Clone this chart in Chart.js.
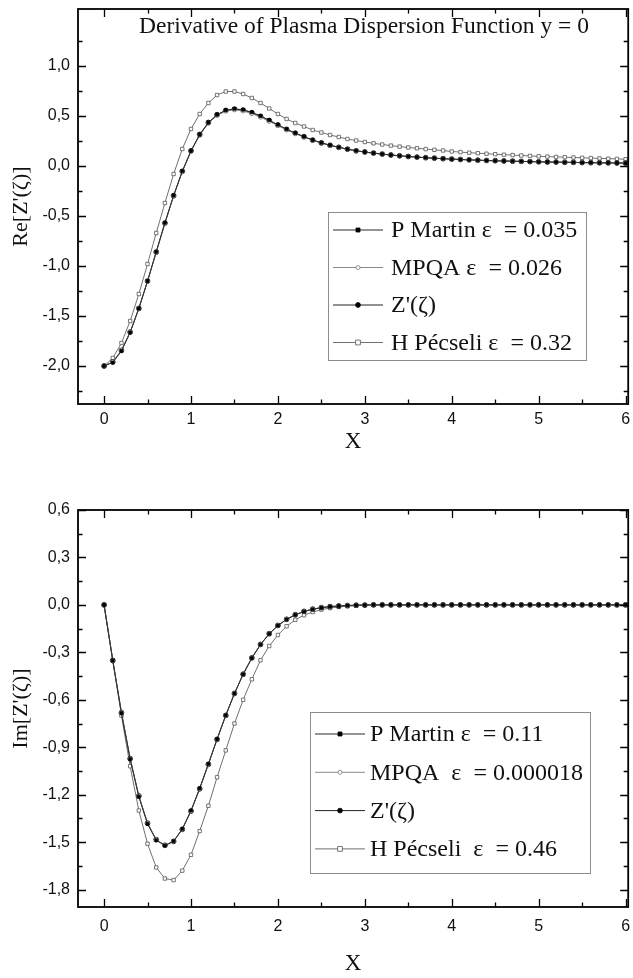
<!DOCTYPE html>
<html lang="en">
<head>
<meta charset="UTF-8">
<title>Derivative of Plasma Dispersion Function</title>
<script src="https://cdn.jsdelivr.net/npm/chart.js@4.4.1/dist/chart.umd.min.js"></script>
<style>
  body { margin: 0; background: #fff; }
  .panel { position: absolute; left: 0; width: 633px; }
  #top { top: 0; height: 470px; }
  #bottom { top: 470px; height: 508px; }
</style>
</head>
<body>
<div class="panel" id="top"><canvas id="reChart" width="633" height="470"></canvas></div>
<div class="panel" id="bottom"><canvas id="imChart" width="633" height="508"></canvas></div>
<script>
// x grid of the computed points
const xValues = [0, 0.1, 0.2, 0.3, 0.4, 0.5, 0.6, 0.7, 0.8, 0.9, 1.0, 1.1, 1.2, 1.3, 1.4, 1.5, 1.6, 1.7, 1.8, 1.9,
  2.0, 2.1, 2.2, 2.3, 2.4, 2.5, 2.6, 2.7, 2.8, 2.9, 3.0, 3.1, 3.2, 3.3, 3.4, 3.5, 3.6, 3.7, 3.8, 3.9,
  4.0, 4.1, 4.2, 4.3, 4.4, 4.5, 4.6, 4.7, 4.8, 4.9, 5.0, 5.1, 5.2, 5.3, 5.4, 5.5, 5.6, 5.7, 5.8, 5.9, 6.0];

// Re[Z'(zeta)] panel
const reMartin = [-2.000, -1.965, -1.850, -1.665, -1.425, -1.150, -0.858, -0.568, -0.295, -0.052, 0.150, 0.312, 0.432, 0.512, 0.557, 0.571, 0.562, 0.537, 0.500, 0.458,
  0.412, 0.368, 0.329, 0.293, 0.260, 0.232, 0.208, 0.187, 0.169, 0.153, 0.140, 0.129, 0.119, 0.110, 0.102, 0.095, 0.089, 0.083, 0.078, 0.073,
  0.069, 0.065, 0.061, 0.058, 0.055, 0.052, 0.050, 0.048, 0.046, 0.044, 0.042, 0.040, 0.039, 0.037, 0.036, 0.034, 0.033, 0.032, 0.031, 0.030, 0.029];
const reMpqa = [-2.000, -1.958, -1.842, -1.660, -1.424, -1.152, -0.863, -0.574, -0.300, -0.058, 0.146, 0.308, 0.428, 0.506, 0.549, 0.561, 0.550, 0.524, 0.488, 0.447,
  0.403, 0.361, 0.323, 0.289, 0.257, 0.229, 0.206, 0.186, 0.168, 0.152, 0.139, 0.128, 0.118, 0.110, 0.102, 0.095, 0.089, 0.083, 0.078, 0.073,
  0.069, 0.065, 0.061, 0.058, 0.055, 0.052, 0.050, 0.048, 0.046, 0.044, 0.042, 0.040, 0.039, 0.037, 0.036, 0.034, 0.033, 0.032, 0.031, 0.030, 0.029];
const reExact = [-2.000, -1.960, -1.844, -1.661, -1.424, -1.151, -0.861, -0.571, -0.297, -0.053, 0.152, 0.315, 0.435, 0.513, 0.556, 0.569, 0.559, 0.533, 0.497, 0.455,
  0.410, 0.366, 0.328, 0.293, 0.259, 0.231, 0.207, 0.187, 0.168, 0.152, 0.140, 0.129, 0.119, 0.110, 0.102, 0.095, 0.089, 0.083, 0.078, 0.073,
  0.069, 0.065, 0.062, 0.058, 0.055, 0.053, 0.050, 0.048, 0.046, 0.044, 0.042, 0.040, 0.039, 0.037, 0.036, 0.034, 0.033, 0.032, 0.031, 0.030, 0.029];
const rePecseli = [-2.000, -1.920, -1.770, -1.550, -1.280, -0.980, -0.670, -0.370, -0.080, 0.170, 0.370, 0.520, 0.630, 0.710, 0.745, 0.745, 0.720, 0.680, 0.630, 0.575,
  0.520, 0.470, 0.430, 0.395, 0.360, 0.335, 0.310, 0.290, 0.270, 0.255, 0.240, 0.227, 0.215, 0.204, 0.194, 0.185, 0.177, 0.169, 0.162, 0.155,
  0.145, 0.139, 0.133, 0.128, 0.123, 0.118, 0.113, 0.109, 0.105, 0.101, 0.097, 0.094, 0.091, 0.088, 0.085, 0.082, 0.079, 0.076, 0.073, 0.071, 0.068];

// Im[Z'(zeta)] panel
const imMartin = [0, -0.352, -0.684, -0.976, -1.213, -1.385, -1.488, -1.522, -1.494, -1.416, -1.300, -1.159, -1.005, -0.848, -0.698, -0.560, -0.439, -0.336, -0.251, -0.183,
  -0.131, -0.092, -0.063, -0.042, -0.028, -0.018, -0.011, -0.007, -0.004, -0.002, -0.001, 0, 0, 0, 0, 0, 0, 0, 0, 0,
  0, 0, 0, 0, 0, 0, 0, 0, 0, 0, 0, 0, 0, 0, 0, 0, 0, 0, 0, 0, 0];
const imMpqa = [0, -0.351, -0.681, -0.972, -1.208, -1.380, -1.484, -1.520, -1.495, -1.419, -1.304, -1.163, -1.008, -0.850, -0.699, -0.560, -0.438, -0.335, -0.250, -0.182,
  -0.130, -0.091, -0.062, -0.041, -0.027, -0.017, -0.011, -0.007, -0.004, -0.002, -0.001, 0, 0, 0, 0, 0, 0, 0, 0, 0,
  0, 0, 0, 0, 0, 0, 0, 0, 0, 0, 0, 0, 0, 0, 0, 0, 0, 0, 0, 0, 0];
const imExact = [0, -0.351, -0.681, -0.972, -1.208, -1.380, -1.484, -1.520, -1.495, -1.419, -1.304, -1.163, -1.008, -0.850, -0.699, -0.560, -0.438, -0.335, -0.250, -0.182,
  -0.130, -0.091, -0.062, -0.041, -0.027, -0.017, -0.011, -0.007, -0.004, -0.002, -0.001, 0, 0, 0, 0, 0, 0, 0, 0, 0,
  0, 0, 0, 0, 0, 0, 0, 0, 0, 0, 0, 0, 0, 0, 0, 0, 0, 0, 0, 0, 0];
const imPecseli = [0, -0.350, -0.700, -1.020, -1.300, -1.510, -1.660, -1.730, -1.740, -1.680, -1.580, -1.430, -1.270, -1.090, -0.920, -0.750, -0.600, -0.470, -0.350, -0.260,
  -0.190, -0.135, -0.094, -0.065, -0.045, -0.030, -0.020, -0.013, -0.008, -0.005, -0.003, 0, 0, 0, 0, 0, 0, 0, 0, 0,
  0, 0, 0, 0, 0, 0, 0, 0, 0, 0, 0, 0, 0, 0, 0, 0, 0, 0, 0, 0, 0];

// tick labels
const xTicks = [0, 1, 2, 3, 4, 5, 6];
const reTicks = [-2.0, -1.5, -1.0, -0.5, 0.0, 0.5, 1.0];
const imTicks = [-1.8, -1.5, -1.2, -0.9, -0.6, -0.3, 0.0, 0.3, 0.6];

const reLabels = ['P Martin \u03b5  = 0.035', 'MPQA \u03b5  = 0.026', 'Z\'(\u03b6)', 'H P\u00e9cseli \u03b5  = 0.32'];
const imLabels = ['P Martin \u03b5  = 0.11', 'MPQA  \u03b5  = 0.000018', 'Z\'(\u03b6)', 'H P\u00e9cseli  \u03b5  = 0.46'];

const SERIF = '"Liberation Serif", "Times New Roman", serif';
const SANS = '"Liberation Sans", Arial, sans-serif';

function pts(ys) {
  return xValues.map((x, i) => ({ x: x, y: ys[i] }));
}

function makeDatasets(series, labels) {
  const styles = [
    { borderColor: '#2a2a2a', pointStyle: 'rect', pointRadius: 2, pointBackgroundColor: '#000', pointBorderColor: '#000' },
    { borderColor: '#8a8a8a', pointStyle: 'circle', pointRadius: 2, pointBackgroundColor: '#fff', pointBorderColor: '#777' },
    { borderColor: '#222', pointStyle: 'circle', pointRadius: 2.4, pointBackgroundColor: '#000', pointBorderColor: '#000' },
    { borderColor: '#707070', pointStyle: 'rect', pointRadius: 2.4, pointBackgroundColor: '#fff', pointBorderColor: '#555' }
  ];
  return series.map((s, i) => Object.assign({
    label: labels[i],
    data: pts(s),
    borderWidth: 1,
    pointBorderWidth: 0.8,
    tension: 0,
    fill: false
  }, styles[i]));
}

// inward ticks on all four sides plus the box
function minorsOf(ticks, min, max) {
  const step = ticks[1] - ticks[0];
  const out = [];
  const first = ticks[0] - step / 2;
  for (let v = first; v <= max; v += step) {
    if (v >= min) out.push(v);
  }
  return out;
}

const framePlugin = {
  id: 'frame',
  afterDatasetsDraw(chart) {
    const { ctx, chartArea: a, scales: { x, y } } = chart;
    ctx.save();
    ctx.strokeStyle = '#000';
    ctx.lineWidth = 1.3;
    const major = 8, minor = 4.5;
    const xt = x.ticks.map(t => t.value);
    const yt = y.ticks.map(t => t.value);
    const xm = minorsOf(xt, x.min, x.max);
    const ym = minorsOf(yt, y.min, y.max);
    ctx.beginPath();
    const vx = (v, len) => {
      const px = Math.round(x.getPixelForValue(v)) + 0.5;
      ctx.moveTo(px, a.bottom); ctx.lineTo(px, a.bottom - len);
      ctx.moveTo(px, a.top); ctx.lineTo(px, a.top + len);
    };
    const hy = (v, len) => {
      const py = Math.round(y.getPixelForValue(v)) + 0.5;
      ctx.moveTo(a.left, py); ctx.lineTo(a.left + len, py);
      ctx.moveTo(a.right, py); ctx.lineTo(a.right - len, py);
    };
    xt.forEach(v => vx(v, major));
    xm.forEach(v => vx(v, minor));
    yt.forEach(v => hy(v, major));
    ym.forEach(v => hy(v, minor));
    ctx.stroke();
    ctx.lineWidth = 1.8;
    ctx.strokeRect(a.left, a.top, a.right - a.left, a.bottom - a.top);
    ctx.restore();
  }
};

// boxed legend drawn inside the plot
const boxLegendPlugin = {
  id: 'boxLegend',
  afterDraw(chart, args, o) {
    const { ctx } = chart;
    ctx.save();
    ctx.fillStyle = '#fff';
    ctx.fillRect(o.left, o.top, o.width, o.height);
    ctx.strokeStyle = '#8c8c8c';
    ctx.lineWidth = 1;
    ctx.strokeRect(o.left + 0.5, o.top + 0.5, o.width, o.height);
    chart.data.datasets.forEach((ds, i) => {
      const cy = o.top + o.first + i * o.rowH;
      ctx.strokeStyle = ds.borderColor;
      ctx.lineWidth = 1;
      ctx.beginPath();
      ctx.moveTo(o.left + 5, cy); ctx.lineTo(o.left + 55, cy);
      ctx.stroke();
      ctx.fillStyle = ds.pointBackgroundColor;
      ctx.strokeStyle = ds.pointBorderColor;
      ctx.lineWidth = 0.8;
      const mx = o.left + 30, r = ds.pointRadius;
      ctx.beginPath();
      if (ds.pointStyle === 'rect') ctx.rect(mx - r, cy - r, 2 * r, 2 * r);
      else ctx.arc(mx, cy, r, 0, Math.PI * 2);
      ctx.fill(); ctx.stroke();
      ctx.fillStyle = '#111';
      ctx.font = o.font;
      ctx.textBaseline = 'middle';
      ctx.fillText(ds.label, o.left + o.textX, cy + 1);
    });
    ctx.restore();
  }
};

const headingPlugin = {
  id: 'heading',
  afterDraw(chart, args, o) {
    if (!o.text) return;
    const { ctx } = chart;
    ctx.save();
    ctx.fillStyle = '#111';
    ctx.font = o.font;
    ctx.textBaseline = 'middle';
    ctx.fillText(o.text, o.x, o.y);
    ctx.restore();
  }
};

function axisOptions(cfg) {
  return {
    x: {
      type: 'linear',
      min: -0.3,
      max: 6.03,
      afterBuildTicks: s => { s.ticks = xTicks.map(v => ({ value: v })); },
      afterFit: s => { s.height = cfg.xHeight; s.paddingLeft = 0; s.paddingRight = 0; },
      grid: { display: false, drawTicks: false },
      border: { display: false },
      ticks: { padding: cfg.xTickPad, color: '#111', font: { family: SANS, size: 16 }, maxRotation: 0, autoSkip: false, callback: v => String(v) },
      title: { display: true, text: 'X', color: '#111', font: { family: SERIF, size: 23 }, padding: { top: 0, bottom: cfg.xTitlePad } }
    },
    y: {
      type: 'linear',
      min: cfg.yMin,
      max: cfg.yMax,
      afterBuildTicks: s => { s.ticks = cfg.yTicks.map(v => ({ value: v })); },
      afterFit: s => { s.width = 78; s.paddingTop = 0; s.paddingBottom = 0; },
      grid: { display: false, drawTicks: false },
      border: { display: false },
      ticks: { padding: 8, color: '#111', font: { family: SANS, size: 16 }, callback: v => v.toFixed(1).replace('.', ',') },
      title: { display: true, text: cfg.yTitle, color: '#111', font: { family: SERIF, size: 22 }, padding: { top: 8, bottom: 0 } }
    }
  };
}

function makeChart(id, series, labels, cfg) {
  return new Chart(document.getElementById(id), {
    type: 'line',
    data: { datasets: makeDatasets(series, labels) },
    options: {
      responsive: false,
      animation: false,
      events: [],
      layout: { padding: { top: cfg.padTop, right: 2, bottom: 0, left: 0 } },
      scales: axisOptions(cfg),
      plugins: {
        legend: { display: false },
        tooltip: { enabled: false },
        boxLegend: cfg.legend,
        heading: cfg.heading || {}
      }
    },
    plugins: [framePlugin, boxLegendPlugin, headingPlugin]
  });
}

makeChart('reChart', [reMartin, reMpqa, reExact, rePecseli], reLabels, {
  padTop: 9, xHeight: 66, xTickPad: 6, xTitlePad: 14,
  yMin: -2.38, yMax: 1.57, yTicks: reTicks, yTitle: 'Re[Z\'(\u03b6)]',
  legend: { left: 328, top: 212, width: 258, height: 148, rowH: 37.5, first: 18, textX: 63, font: '24px ' + SERIF },
  heading: { text: 'Derivative of Plasma Dispersion Function y = 0', x: 139, y: 27, font: '23.5px ' + SERIF }
});

makeChart('imChart', [imMartin, imMpqa, imExact, imPecseli], imLabels, {
  padTop: 40, xHeight: 71, xTickPad: 10, xTitlePad: 0,
  yMin: -1.91, yMax: 0.6, yTicks: imTicks, yTitle: 'Im[Z\'(\u03b6)]',
  legend: { left: 310, top: 242, width: 280, height: 161, rowH: 38.3, first: 22, textX: 60, font: '24px ' + SERIF }
});
</script>
</body>
</html>
